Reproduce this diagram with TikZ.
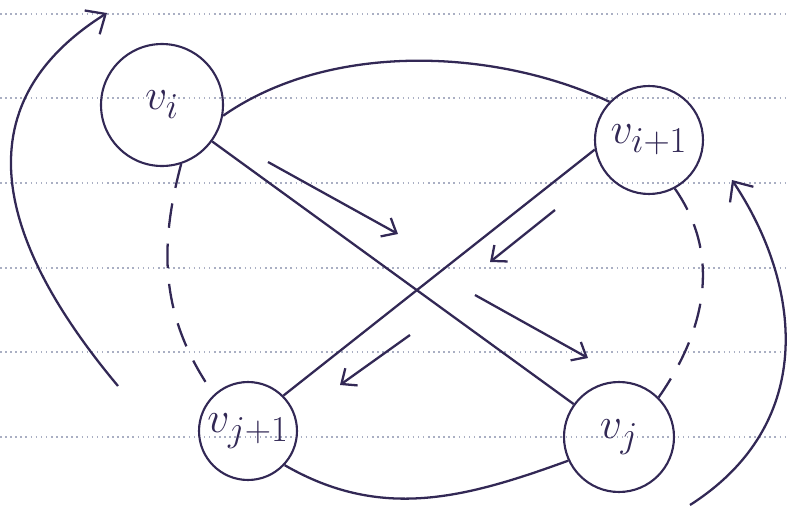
\documentclass[tikz,border=0pt]{standalone}
\usetikzlibrary{arrows.meta}
\definecolor{ink}{RGB}{50,40,85}
\definecolor{rule}{RGB}{170,175,195}
\begin{document}
\begin{tikzpicture}[
        x=0.02cm, y=0.02cm,
        vert/.style={
            draw=ink,
            circle,
            line width=1.2pt,
            inner sep=0pt,
            font=\fontsize{32}{38}\selectfont,
            text=ink
        },
        edge/.style={draw=ink, line width=1.3pt},
        dashedge/.style={edge, dash pattern=on 14pt off 9pt},
        hint/.style={edge, -{Straight Barb[length=7pt,width=12pt]}},
        turn/.style={edge, -{Straight Barb[length=9pt,width=16pt]}},
        ruled/.style={draw=rule, line width=0.9pt, dotted}
    ]
        \useasboundingbox (0,0) rectangle (789,512);

        % Paper
        \foreach \y in {498,414,329,244,160,75}
            \draw[ruled] (0,\y) -- (789,\y);

        % Vertices
        \node[vert, minimum size=2.44cm] (vi) at (162,407) {$v_i$};
        \node[vert, minimum size=2.16cm] (vi1) at (649,372) {$v_{i+1}$};
        \node[vert, minimum size=1.96cm] (vj1) at (248,81) {$v_{j+1}$};
        \node[vert, minimum size=2.2cm] (vj) at (619,75) {$v_j$};

        % Tour edges
        \draw[edge] (vi.-10) to[out=35, in=155, looseness=0.85] (vi1.136);
        \draw[edge] (vj1.-43) to[out=-30, in=-160] (vj.-155);
        \draw[dashedge] (vi.-72) to[out=-105, in=125] (vj1.133);
        \draw[dashedge] (vi1.-62) to[out=-55, in=55] (vj.45);

        % Crossing edges
        \draw[edge] (vi) -- (vj);
        \draw[edge] (vi1.190) -- (vj1.45);

        % Direction hints
        \coordinate (h1s) at (268,350);
        \coordinate (h1e) at (398,278);
        \coordinate (h2s) at (555,302);
        \coordinate (h2e) at (490,250);
        \coordinate (h3s) at (475,217);
        \coordinate (h3e) at (588,154);
        \coordinate (h4s) at (410,177);
        \coordinate (h4e) at (340,127);
        \draw[hint] (h1s) -- (h1e);
        \draw[hint] (h2s) -- (h2e);
        \draw[hint] (h3s) -- (h3e);
        \draw[hint] (h4s) -- (h4e);

        % Turning arrows
        \coordinate (ls) at (118,126);
        \coordinate (le) at (107,499);
        \coordinate (rs) at (690,7);
        \coordinate (re) at (732,332);
        \draw[turn] (ls) .. controls (10,255) and (-50,400) .. (le);
        \draw[turn] (rs) .. controls (820,90) and (800,230) .. (re);
    \end{tikzpicture}
\end{document}
